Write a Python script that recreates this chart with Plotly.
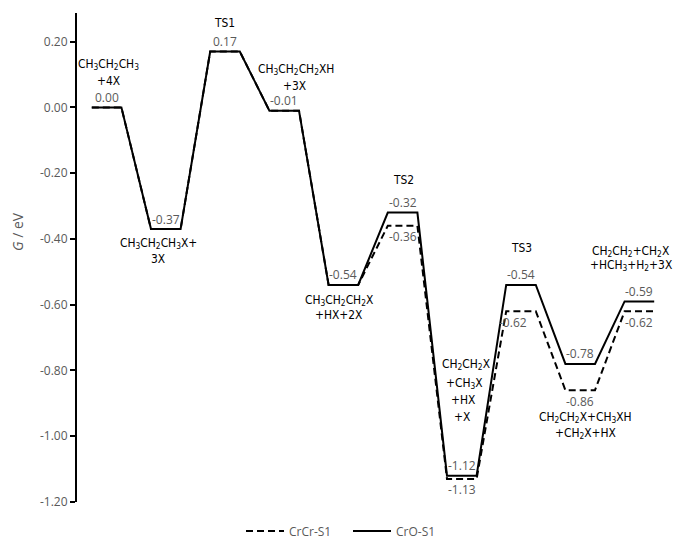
import plotly.graph_objects as go

# ---------------- data ----------------
state_names = ["IS", "I1", "TS1", "I2", "I3", "TS2", "I4", "TS3", "I5", "FS"]
cro_s1 = [0.00, -0.37, 0.17, -0.01, -0.54, -0.32, -1.12, -0.54, -0.78, -0.59]
crcr_s1 = [0.00, -0.37, 0.17, -0.01, -0.54, -0.36, -1.13, -0.62, -0.86, -0.62]
series_names = ["CrCr-S1", "CrO-S1"]
tick_values = [-1.2, -1.0, -0.8, -0.6, -0.4, -0.2, 0.0, 0.2]
tick_labels = ["-1.20", "-1.00", "-0.80", "-0.60", "-0.40", "-0.20", "0.00", "0.20"]
species_labels = [
    ["CH<sub>3</sub>CH<sub>2</sub>CH<sub>3</sub>", "+4X"],
    ["CH<sub>3</sub>CH<sub>2</sub>CH<sub>3</sub>X+", "3X"],
    ["TS1"],
    ["CH<sub>3</sub>CH<sub>2</sub>CH<sub>2</sub>XH", "+3X"],
    ["CH<sub>3</sub>CH<sub>2</sub>CH<sub>2</sub>X", "+HX+2X"],
    ["TS2"],
    ["CH<sub>2</sub>CH<sub>2</sub>X", "+CH<sub>3</sub>X", "+HX", "+X"],
    ["TS3"],
    ["CH<sub>2</sub>CH<sub>2</sub>X+CH<sub>3</sub>XH", "+CH<sub>2</sub>X+HX"],
    ["CH<sub>2</sub>CH<sub>2</sub>+CH<sub>2</sub>X", "+HCH<sub>3</sub>+H<sub>2</sub>+3X"],
]
# dashed-series labels shown only where the two series differ
crcr_labelled = [5, 6, 7, 8, 9]

# ---------------- layout helpers ----------------
GRAY = "#595959"
NUM_FONT = "Open Sans, Noto Sans, sans-serif"
NARROW = "Liberation Sans Narrow, Arial Narrow, DejaVu Sans Condensed, sans-serif"

# pixel offsets of species label lines relative to (segment centre, CrO-S1 level)
species_dx = [[1.4, 1.4], [-7.8, -7.8], [-1], [11.5, 10.5], [-4, -5], [0.4],
              [4.2, 2.2, 0.7, -0.1], [0.7], [5.5, 5.5], [-9, -8]]
species_dy = [[42.4, 26.4], [-14, -30], [28.8], [40.7, 24.7], [-15.2, -30.2], [32.3],
              [111.3, 92.6, 76, 58.6], [36.8], [-54, -69.3], [50.3, 36.3]]
crcr_dx = {7: -8}


def expand(values):
    xs, ys = [], []
    for i, v in enumerate(values):
        xs += [2 * i, 2 * i + 1]
        ys += [v, v]
    return xs, ys


fig = go.Figure()
x_d, y_d = expand(crcr_s1)
x_s, y_s = expand(cro_s1)
fig.add_trace(go.Scatter(x=x_d, y=y_d, mode="lines", name=series_names[0],
                         line=dict(color="black", width=2, dash="7px,4px")))
fig.add_trace(go.Scatter(x=x_s, y=y_s, mode="lines", name=series_names[1],
                         line=dict(color="black", width=2)))

annotations = []
# value labels, CrO-S1 above the level
for i, v in enumerate(cro_s1):
    annotations.append(dict(x=2 * i + 0.5, y=v, xref="x", yref="y", text=f"{v:.2f}",
                            showarrow=False, yshift=10, xanchor="center", yanchor="middle",
                            font=dict(family=NUM_FONT, size=12, color=GRAY)))
# CrCr-S1 below the level
for i in crcr_labelled:
    v = crcr_s1[i]
    annotations.append(dict(x=2 * i + 0.5, y=v, xref="x", yref="y", text=f"{v:.2f}",
                            showarrow=False, yshift=-11, xshift=crcr_dx.get(i, 0),
                            xanchor="center", yanchor="middle",
                            font=dict(family=NUM_FONT, size=12, color=GRAY)))
# species labels
for i, lines in enumerate(species_labels):
    for j, t in enumerate(lines):
        annotations.append(dict(x=2 * i + 0.5, y=cro_s1[i], xref="x", yref="y", text=t,
                                showarrow=False, xshift=species_dx[i][j], yshift=species_dy[i][j],
                                xanchor="center", yanchor="middle",
                                font=dict(family=NARROW, size=11.9, color="black")))
# axis title
annotations.append(dict(x=(18 - 77) / 592, y=(538 - 36 - 232) / 489, xref="paper", yref="paper",
                        text="<i>G</i> / eV", textangle=-90, showarrow=False,
                        xanchor="center", yanchor="middle",
                        font=dict(family=NUM_FONT, size=14, color=GRAY)))

fig.update_layout(
    width=673, height=538,
    margin=dict(l=77, r=4, t=13, b=36),
    paper_bgcolor="white", plot_bgcolor="white",
    showlegend=True,
    legend=dict(orientation="h", x=(241 - 77) / 592, xref="paper",
                y=1 - 531 / 538, yref="container", xanchor="left", yanchor="middle",
                font=dict(family=NUM_FONT, size=12, color=GRAY), itemwidth=38,
                entrywidth=54, entrywidthmode="pixels",
                bgcolor="rgba(0,0,0,0)"),
    xaxis=dict(range=[-0.5, 19.5], visible=False),
    yaxis=dict(range=[-1.2, 0.287], tickvals=tick_values, ticktext=tick_labels,
               showline=True, linecolor="black", linewidth=2, ticks="outside", ticklen=5,
               tickwidth=2, tickcolor="black", showgrid=False, zeroline=False,
               tickfont=dict(family=NUM_FONT, size=12, color=GRAY)),
    annotations=annotations,
)

fig.write_html("out.html", config={"displayModeBar": False},
               post_script="document.body.style.margin='0';")
